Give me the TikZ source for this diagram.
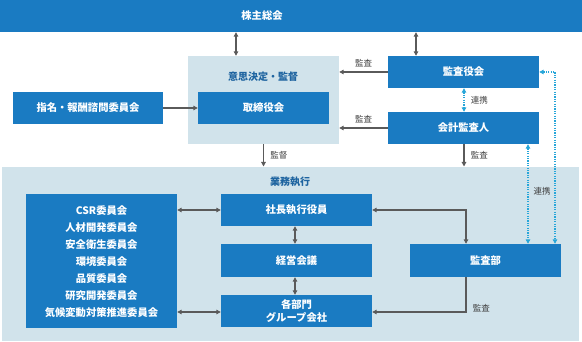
\documentclass[tikz,border=0pt]{standalone}
\usepackage{fontspec}
\setmainfont{Noto Sans CJK JP}
\usetikzlibrary{arrows.meta}
\definecolor{mblue}{HTML}{1A7BC2}
\definecolor{mlight}{HTML}{D1E3EB}
\definecolor{mgray}{HTML}{5A5A5A}
\definecolor{mcyan}{HTML}{27A6D9}
\definecolor{mtitle}{HTML}{1E64A0}
\definecolor{mlabel}{HTML}{404040}
\begin{document}
\begin{tikzpicture}[x=1pt,y=-1pt,
  bluebox/.style={fill=mblue,text=white,inner sep=0pt,font=\fontsize{10.3}{13}\selectfont\bfseries,align=center},
  titletext/.style={text=mtitle,font=\fontsize{10}{12}\selectfont\bfseries},
  lbl/.style={text=mlabel,font=\fontsize{8.5}{10}\selectfont},
  conn/.style={draw=mgray,line width=1.3pt,-{Triangle[length=4.5pt,width=4.5pt]}},
  dconn/.style={draw=mgray,line width=1.3pt,{Triangle[length=4.5pt,width=4.5pt]}-{Triangle[length=4.5pt,width=4.5pt]}},
  dotc/.style={draw=mcyan,line width=1.3pt,dash pattern=on 1.2pt off 1.2pt,{Triangle[length=4.5pt,width=4.5pt,sep=0pt]}-{Triangle[length=4.5pt,width=4.5pt]}}]
\useasboundingbox (0,0) rectangle (582,342);
% backgrounds
\fill[mlight] (2,167) rectangle (579,341);
\node[fill=mlight,minimum width=151,minimum height=88,inner sep=0pt] (kettei) at (263.5,100) {};
\node[titletext] (ketteit) at (263,77) {意思決定・監督};
\node[titletext] (gyomu) at (290,182) {業務執行};
% top bar
\node[fill=mblue,minimum width=582,minimum height=32,inner sep=0pt] (bar) at (291,16) {};
\node[bluebox,fill=none] (soukai) at (262,16) {株主総会};
% boxes
\node[bluebox,minimum width=131,minimum height=32] (tori) at (263.5,108) {取締役会};
\node[bluebox,minimum width=150,minimum height=32] (shimei) at (88,108) {指名・報酬諮問委員会};
\node[bluebox,minimum width=151,minimum height=32] (kyaku) at (463.5,72) {監査役会};
\node[bluebox,minimum width=151,minimum height=32] (kaikei) at (463.5,128) {会計監査人};
\node[bluebox,minimum width=151,minimum height=134,font=\fontsize{10.3}{17}\selectfont\bfseries] (iinkai) at (101.5,261.5) {CSR委員会\\人材開発委員会\\安全衛生委員会\\環境委員会\\品質委員会\\研究開発委員会\\気候変動対策推進委員会};
\node[bluebox,minimum width=151,minimum height=32] (shacho) at (296.5,210) {社長執行役員};
\node[bluebox,minimum width=151,minimum height=33] (keiei) at (296.5,260.5) {経営会議};
\node[bluebox,minimum width=151,minimum height=32] (bumon) at (296.5,311) {各部門\\グループ会社};
\node[bluebox,minimum width=151,minimum height=33] (kansabu) at (485.5,260.5) {監査部};
% helper coordinates
\coordinate (xa) at (236,0);
\coordinate (xb) at (416,0);
\coordinate (xc) at (464,0);
\coordinate (xd) at (466,0);
\coordinate (xe) at (528,0);
\coordinate (xf) at (555,0);
\coordinate (gtop) at (0,166.5);
\coordinate (ya) at (0,72);
\coordinate (yb) at (0,128);
\coordinate (yc) at (0,210);
\coordinate (yd) at (0,312);
\coordinate (x95) at (295,0);
% connectors
\draw[dconn] (bar.south -| xa) -- (kettei.north -| xa);
\draw[dconn] (bar.south -| xb) -- (kyaku.north -| xb);
\draw[conn] (shimei.east) -- (tori.west);
\draw[conn] (kyaku.west) -- (kettei.east |- ya) node[lbl,midway,above=1pt] (l1) {監査};
\draw[conn] (kaikei.west) -- (kettei.east |- yb) node[lbl,midway,above=1pt] (l2) {監査};
\draw[dotc] (kyaku.south -| xc) -- (kaikei.north -| xc) node[lbl,midway,right=3pt] (l3) {連携};
\draw[conn] (kaikei.south -| xc) -- (gtop -| xc) node[lbl,midway,right=3pt] (l4) {監査};
\draw[conn] (kettei.south) -- (gtop -| kettei) node[lbl,midway,right=3pt] (l5) {監督};
\draw[dconn] (iinkai.east |- yc) -- (shacho.west);
\draw[dconn] (iinkai.east |- yd) -- (bumon.west |- yd);
\draw[dconn] (shacho.south -| x95) -- (keiei.north -| x95);
\draw[dconn] (keiei.south -| x95) -- (bumon.north -| x95);
\draw[dconn] (kansabu.north -| xd) |- (shacho.east);
\draw[conn] (kansabu.south -| xd) |- (bumon.east |- yd) node[lbl,pos=0.45,right=3pt] (l6) {監査};
\draw[dotc] (kaikei.south -| xe) -- (kansabu.north -| xe);
\draw[dotc] (kyaku.east) -| (kansabu.north -| xf);
\node[lbl] (l7) at (542,191) {連携};
\end{tikzpicture}
\end{document}
